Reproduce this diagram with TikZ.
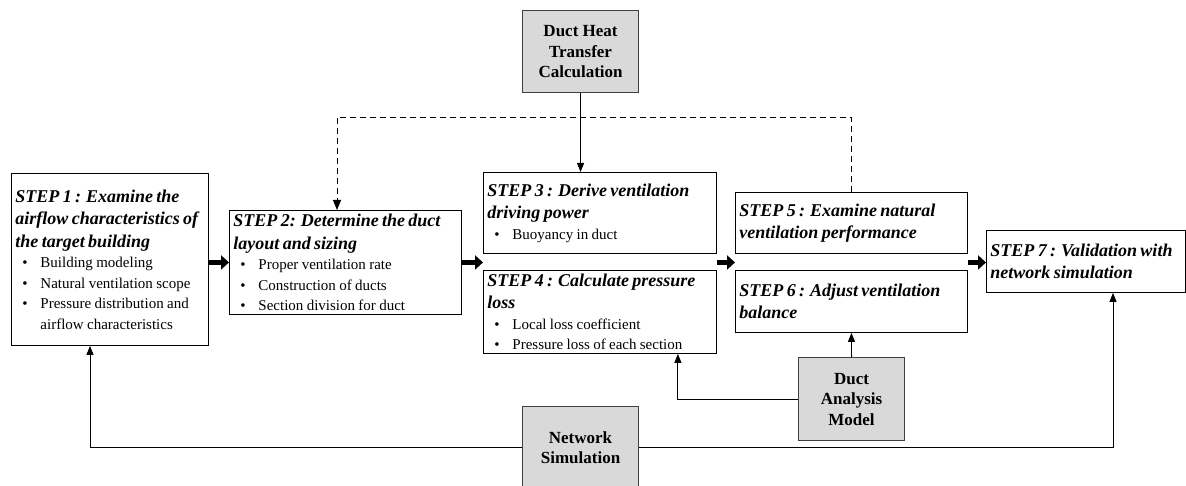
\documentclass[tikz,border=0pt]{standalone}
\usepackage{fontspec}
\setmainfont{Liberation Serif}
\usetikzlibrary{arrows.meta}
\newcommand{\steptitle}{\bfseries\itshape\fontsize{18}{22.5}\selectfont}
\newcommand{\stepitemfont}{\fontsize{15}{20.5}\selectfont}
\newcommand{\itm}[1]{\makebox[25pt][l]{\hspace{7pt}\textbullet}#1}
\definecolor{boxgray}{HTML}{D9D9D9}
\definecolor{edgegray}{HTML}{404040}
\tikzset{
  stepbox/.style={draw=black, line width=0.9pt, anchor=north west, inner xsep=4pt, inner ysep=2pt, align=left},
  graybox/.style={draw=edgegray, fill=boxgray, line width=1.1pt, anchor=north west, align=center,
    font=\bfseries\fontsize{17}{20.5}\selectfont},
  thin arrow/.style={line width=0.9pt, -{Triangle[length=9pt,width=7pt]}},
  thick arrow/.style={line width=4.5pt, -{Triangle[length=8pt,width=14pt]}},
  dash line/.style={line width=0.9pt, dash pattern=on 6pt off 4pt, -{Triangle[length=10pt,width=8pt]}},
}
\begin{document}
\begin{tikzpicture}[x=1pt,y=-1pt]
\useasboundingbox (0,0) rectangle (1186,486);

\node[stepbox, minimum width=197pt, minimum height=172pt, text width=189pt] (s1) at (11,173)
 {{\steptitle STEP 1 : Examine the\\airflow characteristics of\\the target building\par}
  {\stepitemfont \itm{Building modeling}\\\itm{Natural ventilation scope}\\\itm{Pressure distribution and}\\\hspace*{25pt}airflow characteristics\par}};

\node[stepbox, minimum width=232pt, minimum height=104pt, text width=224pt] (s2) at (229,210)
 {{\steptitle STEP 2: Determine the duct\\layout and sizing\par}
  {\stepitemfont \itm{Proper ventilation rate}\\\itm{Construction of ducts}\\\itm{Section division for duct}\par}};

\node[stepbox, minimum width=233pt, minimum height=81pt, text width=225pt] (s3) at (483,172)
 {{\steptitle STEP 3 : Derive ventilation\\driving power\par}
  {\stepitemfont \itm{Buoyancy in duct}\par}};

\node[stepbox, minimum width=233pt, minimum height=83pt, text width=225pt, inner ysep=0pt] (s4) at (483,270)
 {{\steptitle STEP 4 : Calculate pressure\\loss\par}
  {\stepitemfont \itm{Local loss coefficient}\\\itm{Pressure loss of each section}\par}};

\node[stepbox, minimum width=232pt, minimum height=61pt, text width=224pt] (s5) at (735,192)
 {{\steptitle STEP 5 : Examine natural\\ventilation performance\par}};

\node[stepbox, minimum width=232pt, minimum height=62pt, text width=224pt] (s6) at (735,270)
 {{\steptitle STEP 6 : Adjust ventilation\\balance\par}};

\node[stepbox, minimum width=199pt, minimum height=62pt, text width=191pt] (s7) at (986,230)
 {{\steptitle STEP 7 : Validation with\\network simulation\par}};

\node[graybox, minimum width=116pt, minimum height=82pt] (heat) at (522,10) {Duct Heat\\Transfer\\Calculation};
\node[graybox, minimum width=106pt, minimum height=83pt] (dam) at (798,357) {Duct\\Analysis\\Model};
\node[graybox, minimum width=116pt, minimum height=82pt] (net) at (522,406) {Network\\Simulation};

% thick process arrows
\draw[thick arrow] (s1.east |- s2.east) -- (s2.west);
\draw[thick arrow] (s2.east) -- (s3.west |- s2.east);
\draw[thick arrow] (s3.east |- s2.east) -- (s5.west |- s2.east);
\draw[thick arrow] (s5.east |- s2.east) -- (s7.west |- s2.east);

% heat transfer
\draw[thin arrow] (heat.south) -- (heat.south |- s3.north);
\coordinate (dL) at (337,117);
\draw[dash line] (s5.north) |- (dL) -- (dL |- s2.north);

% duct analysis model
\draw[thin arrow] (dam.north) -- (s6.south);
\draw[thin arrow] (dam.west) -| ([xshift=-39pt]s4.south east);

% network simulation
\draw[thin arrow] (net.west) -| ([xshift=79pt]s1.south west);
\draw[thin arrow] (net.east) -| ([xshift=127pt]s7.south west);
\end{tikzpicture}
\end{document}
